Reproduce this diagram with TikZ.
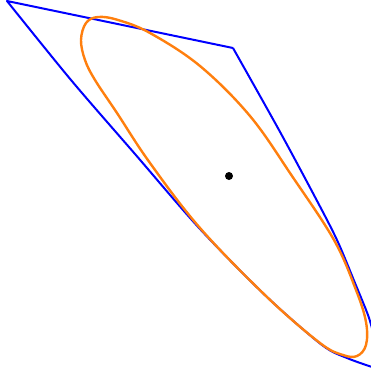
\documentclass[tikz,border=0pt]{standalone}
\definecolor{mplorange}{RGB}{255,127,14}
\tikzset{
  bound/.style={draw=blue, line width=2pt, line join=round},
  region/.style={draw=mplorange, line width=2.4pt},
  centre/.style={circle, fill=black, inner sep=0pt, minimum size=8pt}
}
\begin{document}
\begin{tikzpicture}[x=1pt,y=-1pt]
\useasboundingbox (0,0) rectangle (371,376);
% blue boundary
\draw[bound] plot[smooth, tension=0.5] coordinates {(372,367) (347,358) (322,345) (267,297) (200,229) (135,154) (71,80) (7,1)}
  -- (233,48)
  plot[smooth, tension=0.5] coordinates {(233,48) (279,130) (315,197) (337,240) (355,283) (368,315) (373,332)};
% orange curve
\draw[region] plot[smooth cycle, tension=0.6] coordinates {
 (81,40) (86,23) (98,17) (118,20) (150,33) (200,66) (250,116) (292,176) (334,240) (356,290) (366,322) (366,345) (357,356) (343,355) (320,343) (267,297) (200,228) (150,163) (117,113) (95,80) (85,60)};
\node[centre] (c) at (229,176) {};
\end{tikzpicture}
\end{document}
